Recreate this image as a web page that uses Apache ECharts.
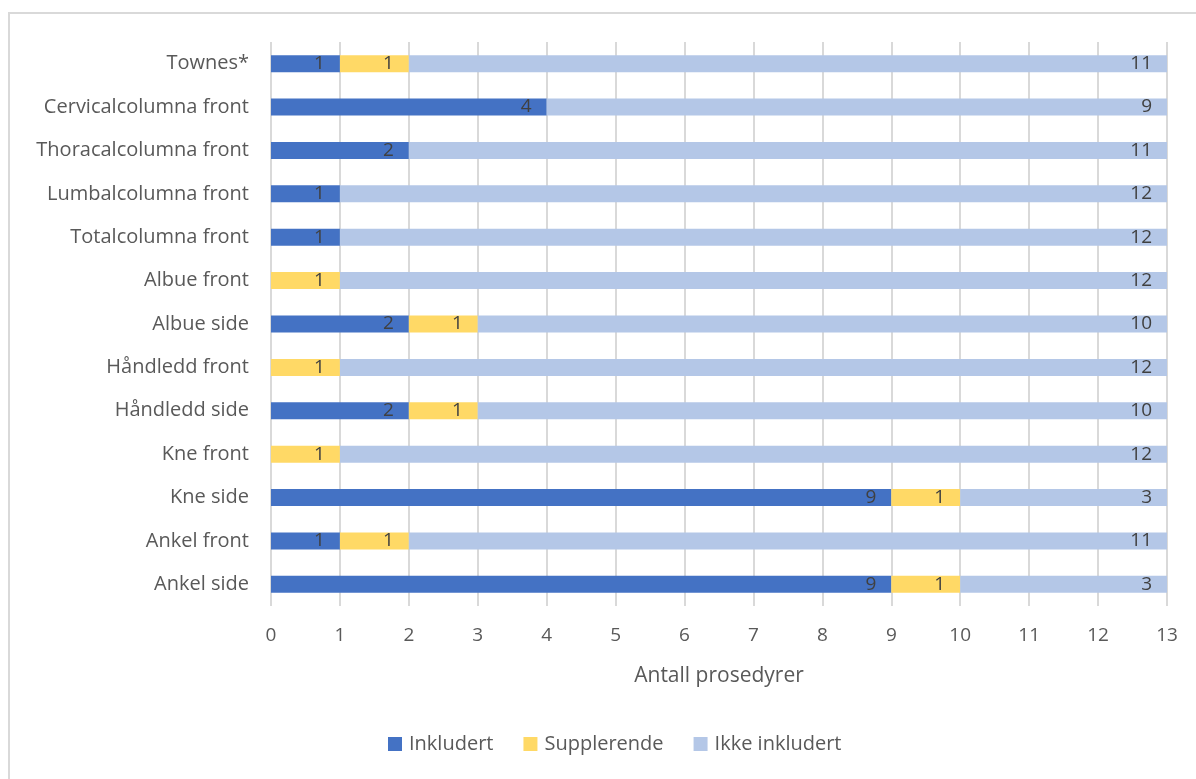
<!DOCTYPE html>
<html>
<head>
<meta charset="utf-8">
<script src="https://cdn.jsdelivr.net/npm/echarts@6/dist/echarts.min.js"></script>
<style>html,body{margin:0;padding:0;background:#fff;}#c{width:1196px;height:779px;}</style>
</head>
<body>
<div id="c"></div>
<script>
const categories = ["Townes*", "Cervicalcolumna front", "Thoracalcolumna front", "Lumbalcolumna front", "Totalcolumna front", "Albue front", "Albue side", "Håndledd front", "Håndledd side", "Kne front", "Kne side", "Ankel front", "Ankel side"];
const inkludert = [1, 4, 2, 1, 1, 0, 2, 0, 2, 0, 9, 1, 9];
const supplerende = [1, 0, 0, 0, 0, 1, 1, 1, 1, 1, 1, 1, 1];
const ikkeInkludert = [11, 9, 11, 12, 12, 12, 10, 12, 10, 12, 3, 11, 3];
const seriesNames = ["Inkludert", "Supplerende", "Ikke inkludert"];
const xTicks = [0, 1, 2, 3, 4, 5, 6, 7, 8, 9, 10, 11, 12, 13];

const FONT = '"Open Sans", "Noto Sans", sans-serif';
const colors = ["#4472C4", "#FFD966", "#B4C7E7"];
const chart = echarts.init(document.getElementById('c'), null, {renderer: 'canvas'});

function mk(name, data, color) {
  return {
    name: name, type: 'bar', stack: 'total', data: data, barWidth: 17,
    itemStyle: {color: color},
    label: {
      show: true, position: 'insideRight', distance: 15,
      color: '#404040', fontSize: 19, fontFamily: FONT,
      formatter: p => (p.value ? String(p.value) : '')
    }
  };
}

chart.setOption({
  animation: false,
  backgroundColor: '#fff',
  graphic: [{
    type: 'rect', shape: {x: 9, y: 13, width: 1250, height: 850},
    style: {fill: 'none', stroke: '#d9d9d9', lineWidth: 2}, z: -1
  }],
  legend: {
    bottom: 20, left: 383, itemWidth: 14, itemHeight: 14, itemGap: 30, icon: 'rect',
    textStyle: {color: '#595959', fontSize: 20, fontFamily: FONT, padding: [0, 0, 0, 2]},
    data: seriesNames
  },
  grid: {left: 271, right: 29, top: 42, bottom: 173, containLabel: false},
  xAxis: {
    type: 'value', min: 0, max: 13, interval: 1,
    name: 'Antall prosedyrer', nameLocation: 'middle', nameGap: 60,
    nameTextStyle: {color: '#595959', fontSize: 21, fontFamily: FONT},
    axisLine: {show: false}, axisTick: {show: false},
    axisLabel: {color: '#595959', fontSize: 19, fontFamily: FONT, margin: 20,
      formatter: v => (xTicks.indexOf(v) >= 0 ? String(v) : '')},
    splitLine: {show: true, lineStyle: {color: '#d9d9d9', width: 2}}
  },
  yAxis: {
    type: 'category', data: categories, inverse: true,
    axisLine: {show: false}, axisTick: {show: false},
    axisLabel: {color: '#595959', fontSize: 20, fontFamily: FONT, margin: 22}
  },
  series: [
    mk(seriesNames[0], inkludert, colors[0]),
    mk(seriesNames[1], supplerende, colors[1]),
    mk(seriesNames[2], ikkeInkludert, colors[2])
  ]
});
</script>
</body>
</html>
